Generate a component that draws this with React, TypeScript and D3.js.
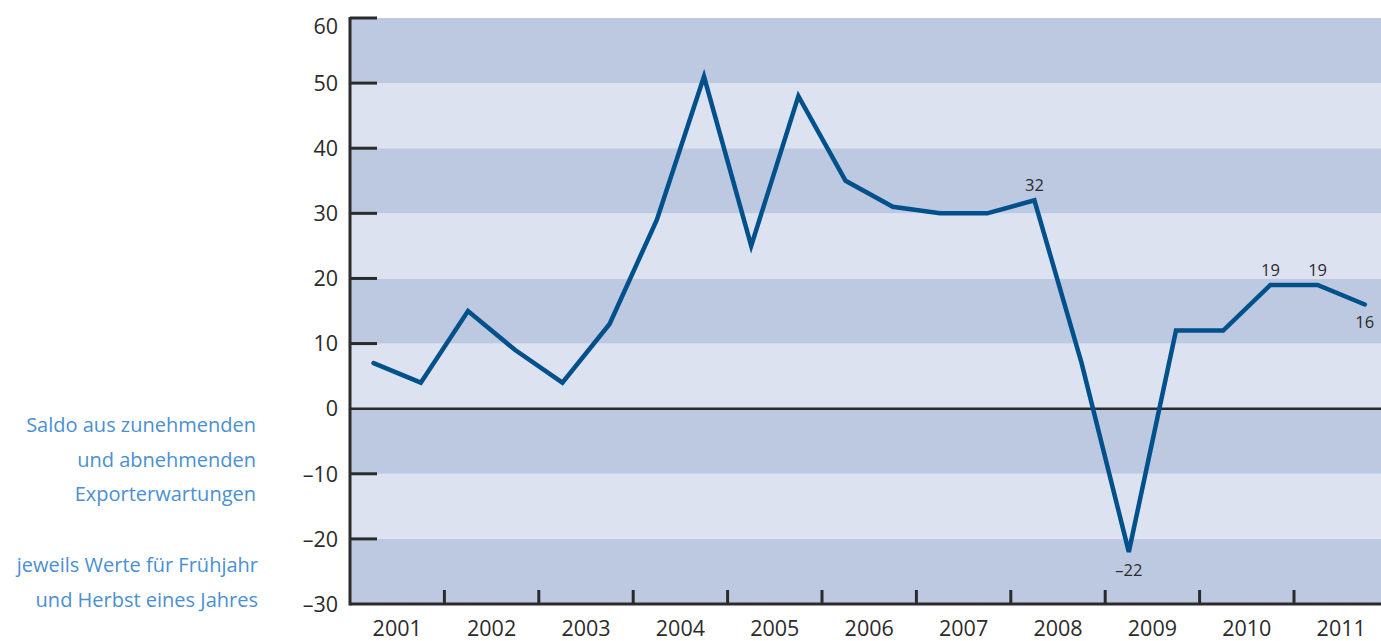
import React from "react";
import * as d3 from "d3";

const years = ["2001","2002","2003","2004","2005","2006","2007","2008","2009","2010","2011"];
const saldo = [7,4,15,9,4,13,29,51,25,48,35,31,30,30,32,7,-22,12,12,19,19,16];
const yTicks = [60,50,40,30,20,10,0,-10,-20,-30];
const labeled = [
  { idx: 14, pos: "above" },
  { idx: 16, pos: "below" },
  { idx: 19, pos: "above" },
  { idx: 20, pos: "above" },
  { idx: 21, pos: "below" },
];
const noteLines1 = ["Saldo aus zunehmenden","und abnehmenden","Exporterwartungen"];
const noteLines2 = ["jeweils Werte für Frühjahr","und Herbst eines Jahres"];

const W = 1381, H = 641;
const left = 350, top = 18, bottom = 604;
const bandW = 94.4;
const dark = "#bcc9e1";
const light = "#dce2f0";
const lineColor = "#00508c";
const axisColor = "#2b2b2b";

export default function App() {
  const y = d3.scaleLinear().domain([-30, 60]).range([bottom, top]);
  const xYear = d3.scaleBand<string>().domain(years).range([left, left + bandW * years.length]).padding(0);
  const points = saldo.map((v, i) => {
    const yr = years[Math.floor(i / 2)];
    const x = (xYear(yr) as number) + xYear.bandwidth() * (i % 2 === 0 ? 0.25 : 0.75);
    return [x, y(v)] as [number, number];
  });
  const line = d3.line<[number, number]>().x(d => d[0]).y(d => d[1]);
  const bands = d3.range(-30, 60, 10);
  const font = "'Open Sans', 'Noto Sans', sans-serif";
  return (
    <svg width={W} height={H} style={{ position: "absolute", left: 0, top: 0 }} fontFamily={font}>
      {bands.map((b, i) => (
        <rect key={b} x={left} width={W - left} y={y(b + 10)} height={y(b) - y(b + 10)}
          fill={i % 2 === 0 ? dark : light} />
      ))}
      <line x1={left} x2={W} y1={y(0)} y2={y(0)} stroke={axisColor} strokeWidth={2.5} />
      <line x1={left} x2={W} y1={bottom} y2={bottom} stroke={axisColor} strokeWidth={3} />
      <line x1={left} x2={left} y1={top - 1} y2={bottom + 1.5} stroke={axisColor} strokeWidth={3} />
      {yTicks.map(t => (
        <g key={t}>
          {t !== 0 && t !== -30 && (
            <line x1={left} x2={left + 27} y1={y(t)} y2={y(t)} stroke={axisColor} strokeWidth={3} />
          )}
          <text x={338} y={y(t) + (t === 60 ? 10 : 2)} textAnchor="end" dominantBaseline="middle"
            fontSize={21.5} fill={axisColor}>{t < 0 ? "\u2013" + Math.abs(t) : t}</text>
        </g>
      ))}
      {years.slice(1).map(yr => (
        <line key={yr} x1={xYear(yr) as number} x2={xYear(yr) as number} y1={bottom} y2={bottom - 14}
          stroke={axisColor} strokeWidth={3} />
      ))}
      {years.map(yr => (
        <text key={yr} x={(xYear(yr) as number) + xYear.bandwidth() / 2} y={636} textAnchor="middle"
          fontSize={21.5} fill={axisColor}>{yr}</text>
      ))}
      <path d={line(points) as string} fill="none" stroke={lineColor} strokeWidth={4.5}
        strokeLinejoin="miter" strokeLinecap="round" />
      {labeled.map(l => {
        const [px, py] = points[l.idx];
        const v = saldo[l.idx];
        return (
          <text key={l.idx} x={px} y={l.pos === "above" ? py - 9 : py + 24} textAnchor="middle"
            fontSize={16.5} fill={axisColor}>{v < 0 ? "\u2013" + Math.abs(v) : v}</text>
        );
      })}
      {noteLines1.map((s, i) => (
        <text key={s} x={256} y={432 + i * 34.5} textAnchor="end" fontSize={20} fill="#4a90d2"
          fontFamily="'Open Sans', sans-serif">{s}</text>
      ))}
      {noteLines2.map((s, i) => (
        <text key={s} x={258} y={572 + i * 34.5} textAnchor="end" fontSize={20} fill="#4a90d2"
          fontFamily="'Open Sans', sans-serif">{s}</text>
      ))}
    </svg>
  );
}
